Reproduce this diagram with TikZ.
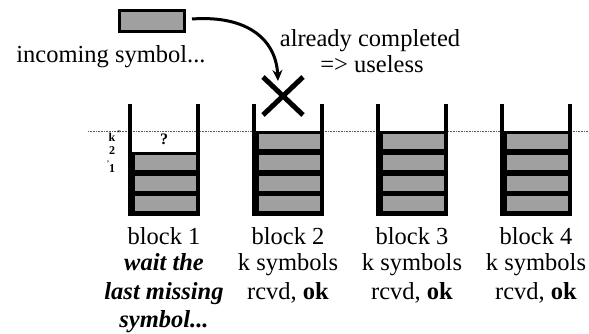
\documentclass[tikz,border=0pt]{standalone}
\usepackage{fontspec}
\setmainfont{Liberation Serif}
\usetikzlibrary{calc,arrows.meta}
\definecolor{cellgray}{RGB}{160,160,160}
\begin{document}
\begin{tikzpicture}[x=1pt,y=-1pt,
  wall/.style={line width=3.2pt, line cap=rect},
  cell/.style={draw, fill=cellgray, line width=3.2pt, minimum width=64.5pt, minimum height=18pt, inner sep=0pt, anchor=north west},
  lbl/.style={anchor=base, inner sep=0pt, font=\fontsize{24.5}{28}\selectfont},
  emph/.style={lbl, font=\fontsize{24.5}{28}\selectfont\bfseries\itshape},
  small/.style={anchor=center, inner sep=0pt, font=\fontsize{12}{13}\selectfont\bfseries}]
\useasboundingbox (0,0) rectangle (589,334);
% dotted level line
\draw[densely dotted, line width=0.6pt, gray!70!black] (88,131) -- (589,131);
% incoming symbol
\node[draw, fill=cellgray, line width=3pt, minimum width=65pt, minimum height=21pt, inner sep=0pt] (inc) at (152,21) {};
\node[lbl] (inctxt) at (111,63) {incoming symbol...};
% blocks
\foreach \i/\x/\n in {1/130/3, 2/254/4, 3/378/4, 4/502/4}{
  \foreach \c in {1,...,\n}{
    \node[cell] (b\i c\c) at (\x+1.5,{214-\c*20.75}) {};
  }
  \draw[wall] (\x,106) coordinate (b\i tl) -- (\x,214) -- (\x+68,214) -- (\x+68,106) coordinate (b\i tr);
}
% question mark
\node[anchor=center, inner sep=0pt, font=\fontsize{16}{17}\selectfont\bfseries] (q) at (164,139) {?};
% left labels
\node[small] (lk) at (112,137.5) {k};
\node[small, font=\fontsize{7}{7}\selectfont\bfseries] (lkp) at (119,133) {''};
\node[small] (l2) at (112,151) {2};
\node[small, font=\fontsize{7}{7}\selectfont\bfseries] (l1p) at (108,163) {'};
\node[small] (l1) at (112,169) {1};
% X mark
\coordinate (xc) at (283,96);
\draw[line width=5pt] ($(xc)+(-20,-19)$) -- ($(xc)+(20,19)$);
\draw[line width=5pt] ($(xc)+(20,-19)$) -- ($(xc)+(-20,19)$);
\coordinate (xtop) at (278,81);
\draw[line width=3pt, -{Stealth[length=11pt,width=10pt]}] (inc.east) ++(6,-2) .. controls (248,15) and (276,40) .. (xtop);
% annotation
\node[lbl] (ann1) at (370,47) {already completed};
\node[lbl] (ann2) at (372,73) {=> useless};
% block labels
\node[lbl] (t1a) at (164,244) {block 1};
\node[emph] (t1b) at (164,270) {wait the};
\node[emph] (t1c) at (164,299) {last missing};
\node[emph] (t1d) at (164,327) {symbol...};
\foreach \i/\x in {2/288,3/412,4/536}{
  \node[lbl] (t\i a) at (\x,244) {block \i};
  \node[lbl] (t\i b) at (\x,270) {k symbols};
  \node[lbl] (t\i c) at (\x,299) {rcvd, \textbf{ok}};
}
\end{tikzpicture}
\end{document}
